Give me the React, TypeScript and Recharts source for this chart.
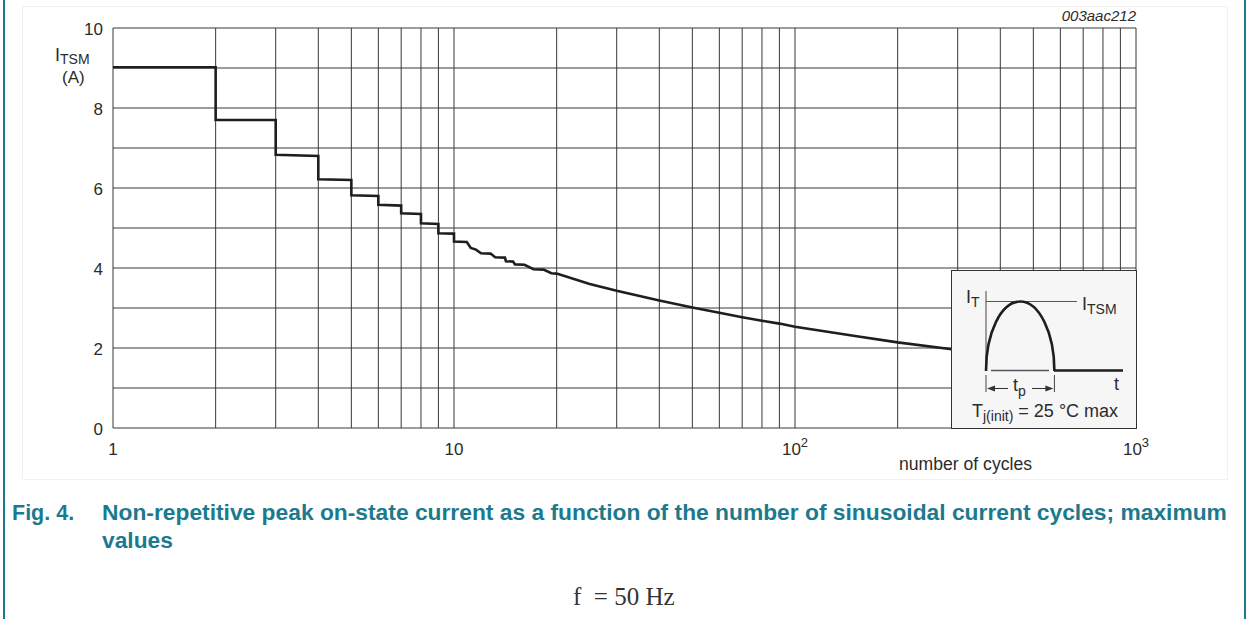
import React from 'react';
import { LineChart, Line, XAxis, YAxis, CartesianGrid } from 'recharts';

// number of cycles (log axis) and peak current
const cycles = [
  1, 2, 2, 3, 3, 4, 4, 5, 5, 6, 6, 7, 7, 8, 8, 9, 9, 10, 10, 10.9, 11.2, 11.6, 12, 12.8, 13.2,
  14.1, 14.2, 14.9, 15.1, 16.1, 17.1, 18.3, 19.3, 20, 25, 30, 40, 50, 60, 70, 80, 90, 100, 150,
  200, 300,
];
const itsm = [
  9.02, 9.02, 7.7, 7.7, 6.83, 6.8, 6.22, 6.2, 5.82, 5.8, 5.58, 5.56, 5.37, 5.35, 5.12, 5.1, 4.87,
  4.86, 4.66, 4.65, 4.5, 4.46, 4.37, 4.36, 4.27, 4.26, 4.17, 4.16, 4.09, 4.08, 3.97, 3.96, 3.87,
  3.86, 3.6, 3.43, 3.19, 3.01, 2.88, 2.77, 2.68, 2.61, 2.53, 2.3, 2.14, 1.95,
];
const gridX = [1, 2, 3, 4, 5, 6, 7, 8, 9, 10, 20, 30, 40, 50, 60, 70, 80, 90, 100, 200, 300, 400, 500, 600, 700, 800, 900, 1000];
const gridY = [0, 1, 2, 3, 4, 5, 6, 7, 8, 9, 10];
const xLabels: Record<number, [string, string]> = { 1: ['1', ''], 10: ['10', ''], 100: ['10', '2'], 1000: ['10', '3'] };

const data = cycles.map((n, k) => ({ n, i: itsm[k] }));

const FONT = '"Liberation Sans", Arial, Helvetica, sans-serif';
const TEAL = '#1b7a8e';
const INK = '#2b2b2b';

const XTick = (props: any) => {
  const { x, y, payload } = props;
  const lab = xLabels[payload.value];
  if (!lab) return null;
  return (
    <text x={x} y={y + 25} textAnchor="middle" fontSize={17} fill={INK} fontFamily={FONT}>
      {lab[0]}
      {lab[1] && (
        <tspan dy={-8} fontSize={13}>
          {lab[1]}
        </tspan>
      )}
    </text>
  );
};

const YTick = (props: any) => {
  const { x, y, payload } = props;
  if (payload.value % 2 !== 0) return null;
  return (
    <text x={x} y={y + 7} textAnchor="end" fontSize={17} fill={INK} fontFamily={FONT}>
      {payload.value}
    </text>
  );
};

const Inset = () => (
  <svg width={186} height={160} style={{ position: 'absolute', left: 951, top: 270 }}>
    <rect x={0.5} y={0.5} width={185} height={158} fill="#f6f6f6" stroke="#333" strokeWidth={1} />
    <line x1={35} y1={21} x2={35} y2={101} stroke="#444" strokeWidth={1} />
    <line x1={35} y1={31.5} x2={126} y2={31.5} stroke="#555" strokeWidth={1} />
    <path d="M 35 101 A 34.2 69.5 0 0 1 103.4 101" fill="none" stroke="#1e1e1e" strokeWidth={2.6} />
    <line x1={40} y1={100.5} x2={98} y2={100.5} stroke="#555" strokeWidth={1.4} />
    <line x1={103} y1={100.5} x2={172} y2={100.5} stroke="#1e1e1e" strokeWidth={2.6} />
    <line x1={35} y1={105} x2={35} y2={122} stroke="#444" strokeWidth={1} />
    <line x1={103.4} y1={105} x2={103.4} y2={122} stroke="#444" strokeWidth={1} />
    <line x1={40} y1={118.5} x2={57} y2={118.5} stroke="#333" strokeWidth={1} />
    <path d="M 36 118.5 L 44 115.5 L 44 121.5 Z" fill="#333" />
    <line x1={81} y1={118.5} x2={98} y2={118.5} stroke="#333" strokeWidth={1} />
    <path d="M 102.4 118.5 L 94.4 115.5 L 94.4 121.5 Z" fill="#333" />
    <g fontFamily={FONT} fill={INK}>
      <text x={15} y={33} fontSize={18}>
        I<tspan dy={4} fontSize={14}>T</tspan>
      </text>
      <text x={131} y={40} fontSize={18}>
        I<tspan dy={4} fontSize={14}>TSM</tspan>
      </text>
      <text x={163} y={120} fontSize={18}>t</text>
      <text x={62} y={121} fontSize={18}>
        t<tspan dy={5} fontSize={14}>p</tspan>
      </text>
      <text x={21} y={147} fontSize={18}>
        T<tspan dy={4} fontSize={14}>j(init)</tspan>
        <tspan dy={-4}> = 25 °C max</tspan>
      </text>
    </g>
  </svg>
);

const abs = (left: number, top: number, extra: React.CSSProperties = {}): React.CSSProperties => ({
  position: 'absolute',
  left,
  top,
  whiteSpace: 'nowrap',
  ...extra,
});

export default function App() {
  return (
    <div
      style={{
        position: 'absolute',
        left: 0,
        top: 0,
        width: 1246,
        height: 619,
        background: '#fff',
        overflow: 'hidden',
        fontFamily: FONT,
      }}
    >
      <div style={abs(3, 0, { width: 2, height: 619, background: TEAL })} />
      <div style={abs(1244, 0, { width: 2, height: 619, background: TEAL })} />
      <div style={abs(22, 6, { width: 1204, height: 472, border: '1px solid #f1f1f1' })} />

      <div style={abs(0, 0)}>
        <LineChart width={1246} height={480} data={data} margin={{ top: 28, right: 110, left: 83, bottom: 22 }}>
          <CartesianGrid stroke="#383838" strokeWidth={1} fill="none" />
          <XAxis
            dataKey="n"
            type="number"
            scale="log"
            domain={[1, 1000]}
            ticks={gridX}
            interval={0}
            allowDataOverflow
            axisLine={false}
            tickLine={false}
            tickSize={0}
            height={30}
            tick={<XTick />}
          />
          <YAxis
            type="number"
            domain={[0, 10]}
            ticks={gridY}
            interval={0}
            width={30}
            axisLine={false}
            tickLine={false}
            tickSize={0}
            tickMargin={10}
            tick={<YTick />}
          />
          <Line type="linear" dataKey="i" stroke="#1e1e1e" strokeWidth={2.6} dot={false} isAnimationActive={false} />
        </LineChart>
      </div>

      <Inset />

      <div style={{ position: 'absolute', right: 110, top: 7, fontSize: 15, fontStyle: 'italic', color: INK, whiteSpace: 'nowrap' }}>
        003aac212
      </div>
      <div style={abs(55, 45, { fontSize: 18, color: INK, lineHeight: '20px' })}>
        I<span style={{ fontSize: 14, verticalAlign: -3 }}>TSM</span>
      </div>
      <div style={abs(62, 68, { fontSize: 17, color: INK, lineHeight: '20px' })}>(A)</div>
      <div style={abs(899, 454, { fontSize: 17.6, color: INK })}>number of cycles</div>

      <div style={abs(12, 499, { fontSize: 21.5, fontWeight: 'bold', color: TEAL, lineHeight: '28px' })}>Fig. 4.</div>
      <div style={abs(102, 498, { fontSize: 22.8, fontWeight: 'bold', color: TEAL, lineHeight: '28px' })}>
        Non-repetitive peak on-state current as a function of the number of sinusoidal current cycles; maximum
        <br />
        values
      </div>
      <div
        style={abs(573, 583, {
          fontSize: 25,
          color: '#333',
          lineHeight: '28px',
          fontFamily: '"Liberation Serif", "DejaVu Serif", serif',
          whiteSpace: 'pre',
        })}
      >
        {'f  = 50 Hz'}
      </div>
    </div>
  );
}
